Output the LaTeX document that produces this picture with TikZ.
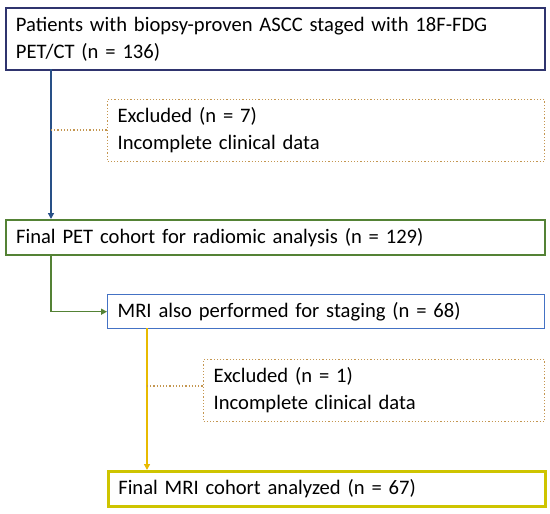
\documentclass[tikz,border=0pt]{standalone}
\usepackage{fontspec}
\setmainfont{Carlito}
\usetikzlibrary{arrows.meta}
\definecolor{navyb}{RGB}{47,52,110}
\definecolor{arrblue}{RGB}{40,80,135}
\definecolor{grn}{RGB}{84,130,53}
\definecolor{lblue}{RGB}{68,114,196}
\definecolor{dotc}{RGB}{196,150,80}
\definecolor{ylw}{RGB}{232,186,0}
\definecolor{ylwbox}{RGB}{206,196,0}
\begin{document}
\begin{tikzpicture}[x=1pt,y=-1pt,
  box/.style={rectangle,anchor=north west,inner xsep=10pt,inner ysep=0pt,align=left,
     font=\fontsize{20.6}{27}\selectfont,text=black},
  exbox/.style={box,draw=dotc,dotted,line width=1.2pt},
  dotline/.style={draw=dotc,dotted,line width=1.2pt},
  arr/.style={-{Triangle[length=6pt,width=6pt]},line width=1.8pt}]
\useasboundingbox (0,0) rectangle (550,514);
\node[box,draw=navyb,line width=1.8pt,minimum width=539pt,minimum height=62pt,text width=519pt] (p1) at (5,7)
  {Patients with biopsy-proven ASCC staged with 18F-FDG\\PET/CT (n = 136)};
\node[exbox,minimum width=437pt,minimum height=62pt,text width=417pt] (e1) at (107,99)
  {Excluded (n = 7)\\Incomplete clinical data};
\node[box,draw=grn,line width=2.2pt,minimum width=539pt,minimum height=35pt,text width=519pt] (p2) at (5,219)
  {Final PET cohort for radiomic analysis (n = 129)};
\node[box,draw=lblue,line width=1.4pt,minimum width=437pt,minimum height=34pt,text width=417pt] (p3) at (107,294)
  {MRI also performed for staging (n = 68)};
\node[exbox,minimum width=341pt,minimum height=62pt,text width=321pt] (e2) at (203,359)
  {Excluded (n = 1)\\Incomplete clinical data};
\node[box,draw=ylwbox,line width=2.6pt,minimum width=437pt,minimum height=35pt,text width=417pt] (p4) at (107,470)
  {Final MRI cohort analyzed (n = 67)};
\draw[arr,draw=arrblue,fill=arrblue] (51,69) coordinate (a1) -- (a1 |- p2.north);
\coordinate (d1) at (51,130);
\draw[dotline] (d1) -- (d1 -| e1.west);
\coordinate (g1) at (51,254);
\draw[arr,draw=grn,line width=1.4pt] (g1) |- (p3.west);
\coordinate (y1) at (147,328);
\draw[arr,draw=ylw] (y1) -- (y1 |- p4.north);
\coordinate (d2) at (147,386);
\draw[dotline] (d2) -- (d2 -| e2.west);
\end{tikzpicture}
\end{document}
